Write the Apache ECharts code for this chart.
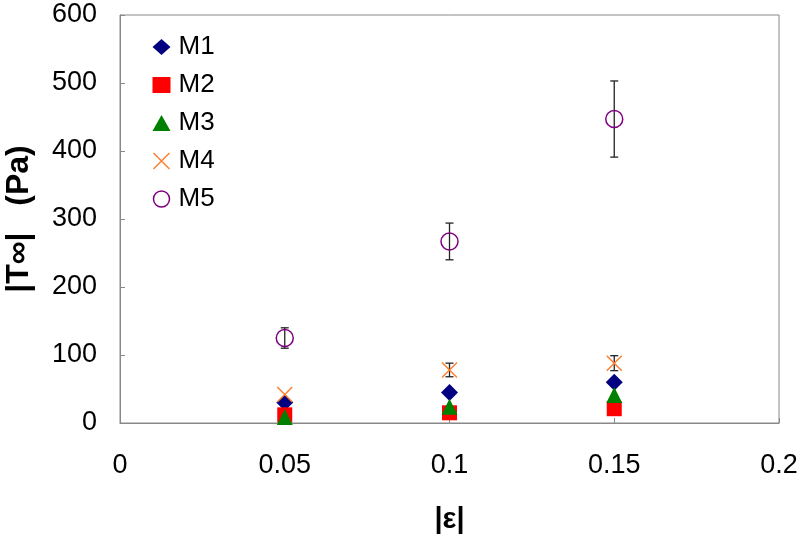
<!DOCTYPE html>
<html><head><meta charset="utf-8">
<script src="https://cdn.jsdelivr.net/npm/echarts@6/dist/echarts.min.js"></script>
<style>html,body{margin:0;padding:0;background:#fff}#c{width:800px;height:540px}</style>
</head><body><div id="c"></div>
<script>
var strain = [0.05, 0.1, 0.15];
var M1 = [30, 45, 60];
var M2 = [12, 15, 21];
var M3 = [9, 24, 41];
var M4 = [42, 78, 88];
var M5 = [125, 267, 447];
var M4err = [0, 10, 11];
var M5err = [15, 27, 56];
var xTicks = [0, 0.05, 0.1, 0.15, 0.2];
var yTicks = [0, 100, 200, 300, 400, 500, 600];

var FONT = 'Liberation Sans, Arial, sans-serif';
var xPath = 'path://M0,0L10,10M10,0L0,10';

function pairs(v){ return strain.map(function(x,i){ return [x, v[i]]; }); }
function errData(v,e){ return strain.map(function(x,i){ return [x, v[i]-e[i], v[i]+e[i]]; }).filter(function(d,i){return e[i]>0;}); }

function errSeries(v,e,z){
  return {
    type:'custom', silent:true, z:z,
    data: errData(v,e),
    renderItem: function(params, api){
      var x = api.value(0);
      var lo = api.coord([x, api.value(1)]);
      var hi = api.coord([x, api.value(2)]);
      var w = 4;
      return {type:'group', children:[
        {type:'line', shape:{x1:lo[0],y1:lo[1],x2:hi[0],y2:hi[1]}, style:{stroke:'#222',lineWidth:1.3}},
        {type:'line', shape:{x1:lo[0]-w,y1:lo[1],x2:lo[0]+w,y2:lo[1]}, style:{stroke:'#222',lineWidth:1.3}},
        {type:'line', shape:{x1:hi[0]-w,y1:hi[1],x2:hi[0]+w,y2:hi[1]}, style:{stroke:'#222',lineWidth:1.3}}
      ]};
    }
  };
}

var chart = echarts.init(document.getElementById('c'), null, {renderer:'canvas'});
chart.setOption({
  animation:false,
  backgroundColor:'#fff',
  textStyle:{fontFamily:FONT},
  grid:{left:120, right:21, top:15, bottom:117, containLabel:false, outerBoundsMode:'none',
        show:true, borderColor:'#888', borderWidth:1, backgroundColor:'#fff'},
  legend:{
    orient:'vertical', left:146, top:29, itemGap:12, itemWidth:18, itemHeight:16,
    textStyle:{fontSize:26, color:'#000', fontFamily:FONT, padding:[0,0,0,3]},
    data:[
      {name:'M1', icon:'diamond'},
      {name:'M2', icon:'rect'},
      {name:'M3', icon:'triangle'},
      {name:'M4', icon:xPath, itemStyle:{color:'none', borderColor:'#FF7F30', borderWidth:1.5}},
      {name:'M5', icon:'circle', itemStyle:{color:'#fff', borderColor:'#800080', borderWidth:1.5}}
    ]
  },
  xAxis:{
    type:'value', min:0, max:0.2, interval:0.05,
    axisLine:{show:true, lineStyle:{color:'#888'}},
    axisTick:{show:true, inside:true, length:5, lineStyle:{color:'#888'}},
    splitLine:{show:false},
    axisLabel:{fontSize:27, color:'#000', margin:29, fontFamily:FONT,
      formatter:function(v){ return String(+v.toFixed(2)); }},
    name:'|ε|', nameLocation:'middle', nameGap:82,
    nameTextStyle:{fontSize:29, fontWeight:'bold', color:'#000', fontFamily:FONT}
  },
  yAxis:{
    type:'value', min:0, max:600, interval:100,
    axisLine:{show:true, lineStyle:{color:'#888'}},
    axisTick:{show:true, inside:true, length:5, lineStyle:{color:'#888'}},
    splitLine:{show:false},
    axisLabel:{fontSize:27, color:'#000', margin:23, fontFamily:FONT},
    name:'|T∞|   (Pa)', nameLocation:'middle', nameGap:85,
    nameTextStyle:{fontSize:32, fontWeight:'bold', color:'#000', fontFamily:FONT}
  },
  series:[
    errSeries(M4, M4err, 1),
    errSeries(M5, M5err, 1),
    {name:'M1', type:'scatter', symbol:'diamond', symbolSize:17, z:3, data:pairs(M1), itemStyle:{color:'#000080', opacity:1}},
    {name:'M2', type:'scatter', symbol:'rect', symbolSize:15, z:3, data:pairs(M2), itemStyle:{color:'#FF0000', opacity:1}},
    {name:'M3', type:'scatter', symbol:'triangle', symbolSize:16, z:3, data:pairs(M3), itemStyle:{color:'#008000', opacity:1}},
    {name:'M4', type:'scatter', symbol:xPath, symbolSize:15, z:3, data:pairs(M4), itemStyle:{color:'none', borderColor:'#FF7F30', borderWidth:1.5, opacity:1}},
    {name:'M5', type:'scatter', symbol:'circle', symbolSize:17, z:3, data:pairs(M5), itemStyle:{color:'rgba(255,255,255,0)', borderColor:'#800080', borderWidth:1.5, opacity:1}}
  ]
});
</script>
</body></html>
